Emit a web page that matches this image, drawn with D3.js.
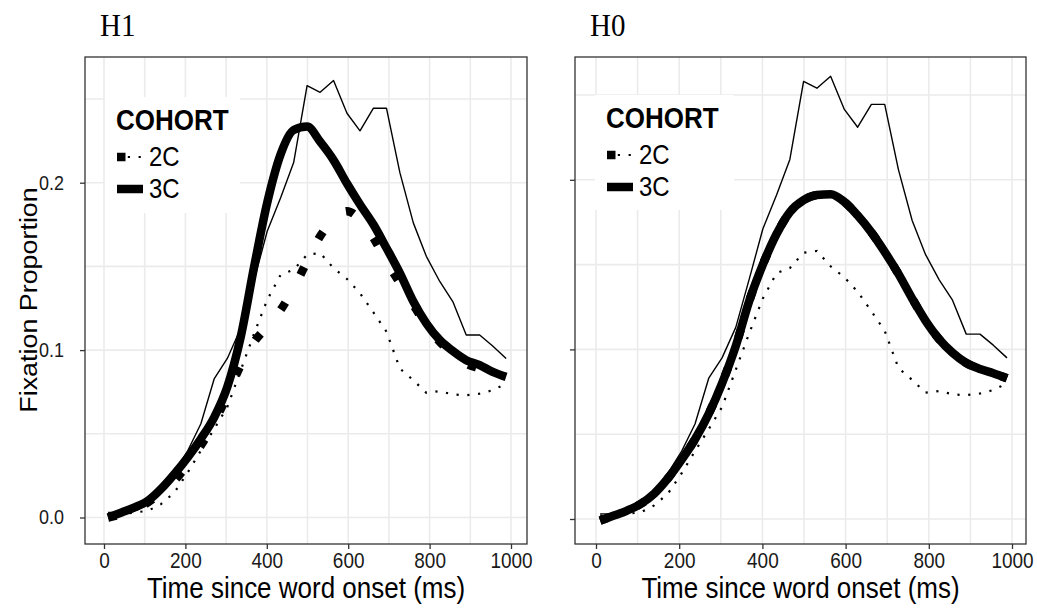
<!DOCTYPE html>
<html>
<head>
<meta charset="utf-8">
<script src="https://cdn.jsdelivr.net/npm/d3@7"></script>
<style>
  body { margin: 0; background: #fff; }
  svg { display: block; }
</style>
</head>
<body>
<svg id="chart" width="1037" height="610"></svg>
<script>
// time bins (ms) and fixation proportions
const time = [10, 43, 75, 108, 140, 173, 206, 238, 271, 303, 336, 369, 401, 434, 466, 499,
  531, 564, 597, 629, 662, 694, 727, 760, 792, 825, 857, 890, 923, 955, 988];

// observed data (same in both panels)
const obs3C = [0.003, 0.003, 0.004, 0.009, 0.016, 0.027, 0.040, 0.056, 0.083, 0.095, 0.113, 0.142,
  0.171, 0.191, 0.212, 0.258, 0.254, 0.261, 0.2415, 0.231, 0.2445, 0.2445, 0.206, 0.176, 0.156,
  0.141, 0.129, 0.109, 0.109, 0.1025, 0.095];
const obs2C = [0.002, 0.002, 0.003, 0.004, 0.008, 0.015, 0.027, 0.040, 0.053, 0.066, 0.088, 0.110,
  0.130, 0.145, 0.148, 0.157, 0.158, 0.149, 0.1425, 0.134, 0.1225, 0.111, 0.089, 0.082, 0.0745,
  0.0755, 0.0735, 0.073, 0.074, 0.076, 0.080];

// model fits
const h1Model3C = [0.000, 0.003, 0.006, 0.010, 0.017, 0.026, 0.036, 0.047, 0.060, 0.078, 0.108, 0.150,
  0.188, 0.217, 0.2315, 0.2335, 0.2245, 0.2135, 0.1995, 0.187, 0.175, 0.161, 0.146, 0.129, 0.116,
  0.106, 0.0995, 0.094, 0.091, 0.087, 0.084];
const h1Model2C = [0.000, 0.002, 0.005, 0.009, 0.015, 0.022, 0.032, 0.043, 0.057, 0.073, 0.091, 0.105,
  0.114, 0.124, 0.137, 0.153, 0.168, 0.178, 0.183, 0.178, 0.167, 0.153, 0.140, 0.127, 0.115,
  0.105, 0.098, 0.092, 0.089, 0.086, 0.084];
const h0Model3C = [-0.001, 0.002, 0.005, 0.009, 0.015, 0.024, 0.035, 0.047, 0.062, 0.080, 0.102, 0.129,
  0.150, 0.168, 0.181, 0.188, 0.191, 0.1915, 0.187, 0.179, 0.169, 0.1575, 0.1445, 0.130, 0.117,
  0.106, 0.098, 0.092, 0.0885, 0.086, 0.083];
const h0Model2C = [-0.001, 0.002, 0.005, 0.009, 0.015, 0.024, 0.035, 0.047, 0.062, 0.080, 0.102, 0.129,
  0.150, 0.168, 0.181, 0.188, 0.191, 0.1915, 0.187, 0.179, 0.169, 0.1575, 0.1445, 0.130, 0.117,
  0.106, 0.098, 0.092, 0.0885, 0.086, 0.083];

const xTicks = [0, 200, 400, 600, 800, 1000];
const yTicks = [0, 0.1, 0.2];
const cohorts = ['2C', '3C'];

const svg = d3.select('#chart');
const sans = '"Liberation Sans", Arial, sans-serif';
const sy = 1.12; // the source picture is a bit stretched vertically
const thick = 8.5;
const thin = 1.4;

const panels = [
  { title: 'H1', box: [85, 57, 527, 544], xr: [104, 511], yr: [517.5, 99],
    m2: h1Model2C, m3: h1Model3C, yLabels: true, leg: [105, 97, 240, 213] },
  { title: 'H0', box: [575, 57, 1026, 544], xr: [596, 1012], yr: [519, 95],
    m2: h0Model2C, m3: h0Model3C, yLabels: false, leg: [595, 95, 734, 210] }
];

function txt(g, x, y, s, size, opts = {}) {
  return g.append('text')
    .attr('transform', `translate(${x},${y}) scale(1,${sy})`)
    .attr('font-family', opts.family || sans)
    .attr('font-size', size)
    .attr('font-weight', opts.weight || 'normal')
    .attr('text-anchor', opts.anchor || 'start')
    .attr('fill', opts.fill || '#000')
    .text(s);
}

panels.forEach((p, i) => {
  const [x0, y0, x1, y1] = p.box;
  const x = d3.scaleLinear().domain([0, 1000]).range(p.xr);
  const y = d3.scaleLinear().domain([0, 0.25]).range(p.yr);
  const g = svg.append('g');

  // grid (major + minor)
  g.selectAll('.vg').data(d3.range(0, 1001, 100)).enter().append('line')
    .attr('x1', d => x(d)).attr('x2', d => x(d))
    .attr('y1', y0).attr('y2', y1)
    .attr('stroke', '#ebebeb').attr('stroke-width', 1.6);
  g.selectAll('.hg').data(d3.range(0, 6).map(k => k * 0.05)).enter().append('line')
    .attr('x1', x0).attr('x2', x1)
    .attr('y1', d => y(d)).attr('y2', d => y(d))
    .attr('stroke', '#ebebeb').attr('stroke-width', 1.6);

  const clipId = 'clip' + i;
  svg.append('clipPath').attr('id', clipId).append('rect')
    .attr('x', x0).attr('y', y0).attr('width', x1 - x0).attr('height', y1 - y0);
  const plot = g.append('g').attr('clip-path', `url(#${clipId})`);

  const smooth = d3.line().x((d, k) => x(time[k])).y(d => y(d)).curve(d3.curveMonotoneX);
  const raw = d3.line().x((d, k) => x(time[k])).y(d => y(d));

  // model fits: 3C solid, 2C dotted (thick)
  plot.append('path').datum(p.m3).attr('d', smooth)
    .attr('fill', 'none').attr('stroke', '#000').attr('stroke-width', thick)
    .attr('stroke-linejoin', 'round');
  plot.append('path').datum(p.m2).attr('d', smooth)
    .attr('fill', 'none').attr('stroke', '#000').attr('stroke-width', thick)
    .attr('stroke-dasharray', `${thick} ${thick * 3.7}`);

  // observed (thin)
  plot.append('path').datum(obs3C).attr('d', raw)
    .attr('fill', 'none').attr('stroke', '#000').attr('stroke-width', thin)
    .attr('stroke-linejoin', 'round');
  plot.append('path').datum(obs2C).attr('d', raw)
    .attr('fill', 'none').attr('stroke', '#000').attr('stroke-width', 2.2)
    .attr('stroke-dasharray', '2.2 8.6');

  // panel border
  g.append('rect').attr('x', x0).attr('y', y0).attr('width', x1 - x0).attr('height', y1 - y0)
    .attr('fill', 'none').attr('stroke', '#333').attr('stroke-width', 1.3);

  // axes
  const gx = g.append('g').attr('transform', `translate(0,${y1})`)
    .call(d3.axisBottom(x).tickValues(xTicks).tickSize(5).tickPadding(3).tickFormat(d3.format('d')));
  gx.select('.domain').remove();
  gx.selectAll('line').attr('stroke', '#333').attr('stroke-width', 1.3);
  gx.selectAll('text').attr('font-family', sans).attr('font-size', 19).attr('fill', '#1a1a1a')
    .attr('transform', `scale(1,${sy})`);

  const gy = g.append('g').attr('transform', `translate(${x0},0)`)
    .call(d3.axisLeft(y).tickValues(yTicks).tickSize(5).tickPadding(16)
      .tickFormat(p.yLabels ? d3.format('.1f') : () => ''));
  gy.select('.domain').remove();
  gy.selectAll('line').attr('stroke', '#333').attr('stroke-width', 1.3);
  gy.selectAll('text').attr('font-family', sans).attr('font-size', 18).attr('fill', '#1a1a1a')
    .attr('transform', `scale(1,${sy})`);

  // titles
  txt(g, x0 + 15, 36, p.title, 29, { family: '"Liberation Serif", "Times New Roman", serif' });
  txt(g, (x0 + x1) / 2, 598, 'Time since word onset (ms)', 26, { anchor: 'middle' });

  // legend
  const [lx0, ly0, lx1, ly1] = p.leg;
  const lg = g.append('g');
  lg.append('rect').attr('x', lx0).attr('y', ly0).attr('width', lx1 - lx0).attr('height', ly1 - ly0)
    .attr('fill', '#fff');
  txt(lg, lx0 + 11, ly0 + 33, 'COHORT', 26, { weight: 'bold' });
  cohorts.forEach((c, k) => {
    const cy = ly0 + 60 + k * 32;
    const kx = lx0 + 12;
    if (c === '2C') {
      lg.append('line').attr('x1', kx).attr('x2', kx + 26).attr('y1', cy).attr('y2', cy)
        .attr('stroke', '#000').attr('stroke-width', thick)
        .attr('stroke-dasharray', `${thick} ${thick * 3.7}`);
      lg.append('line').attr('x1', kx).attr('x2', kx + 26).attr('y1', cy).attr('y2', cy)
        .attr('stroke', '#000').attr('stroke-width', 2.2).attr('stroke-dasharray', '2.2 8.6');
    } else {
      lg.append('line').attr('x1', kx).attr('x2', kx + 26).attr('y1', cy).attr('y2', cy)
        .attr('stroke', '#000').attr('stroke-width', thick);
    }
    txt(lg, lx0 + 44, cy + 8.5, c, 24);
  });
});

// y axis title
svg.append('text')
  .attr('transform', `translate(37,300) rotate(-90) scale(1.12,1)`)
  .attr('font-family', sans).attr('font-size', 24).attr('text-anchor', 'middle')
  .attr('fill', '#000')
  .text('Fixation Proportion');
</script>
</body>
</html>
